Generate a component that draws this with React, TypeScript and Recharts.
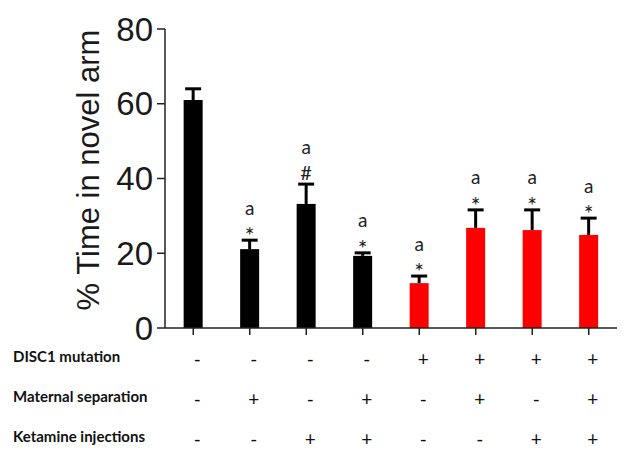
import { BarChart, Bar, XAxis, YAxis } from "recharts";

const GROUPS = ["G1", "G2", "G3", "G4", "G5", "G6", "G7", "G8"];
const MEANS = [61, 21.1, 33.2, 19.3, 12.0, 26.8, 26.2, 24.9];
const SEMS = [3, 2.4, 5.3, 0.8, 1.9, 4.8, 5.4, 4.5];
const FILLS = ["#000000", "#000000", "#000000", "#000000", "#ff0000", "#ff0000", "#ff0000", "#ff0000"];
const SIG_TOP = ["", "a", "a", "a", "a", "a", "a", "a"];
const SIG_MARK = ["", "*", "#", "*", "*", "*", "*", "*"];

const ROW_LABELS = ["DISC1 mutation", "Maternal separation", "Ketamine injections"];
const DISC1 = ["-", "-", "-", "-", "+", "+", "+", "+"];
const MATERNAL = ["-", "+", "-", "+", "-", "+", "-", "+"];
const KETAMINE = ["-", "-", "+", "+", "-", "-", "+", "+"];
const ROWS = [DISC1, MATERNAL, KETAMINE];

const Y_TICKS = [0, 20, 40, 60, 80];

const data = GROUPS.map((g, i) => ({
  group: g,
  mean: MEANS[i],
  sem: SEMS[i],
  fill: FILLS[i],
  top: SIG_TOP[i],
  mark: SIG_MARK[i],
}));

const SMALL_FONT = "Lato, 'Open Sans', sans-serif";

function BarWithError(props: any) {
  const { x, y, width, height, payload } = props;
  const k = height / payload.mean;
  const cx = x + width / 2;
  const errTop = y - payload.sem * k;
  const isHash = payload.mark === "#";
  return (
    <g>
      <rect x={x} y={y} width={width} height={height} fill={payload.fill} />
      <line x1={cx} x2={cx} y1={y} y2={errTop} stroke="#000" strokeWidth={3} />
      <line x1={cx - 8} x2={cx + 8} y1={errTop} y2={errTop} stroke="#000" strokeWidth={3} />
      {payload.mark && (
        <text
          x={cx}
          y={errTop - (isHash ? 12 : 5)}
          textAnchor="middle"
          dominantBaseline="central"
          fontSize={isHash ? 20 : 23}
          fontFamily={SMALL_FONT}
          fill="#222"
        >
          {payload.mark}
        </text>
      )}
      {payload.top && (
        <text
          x={cx}
          y={errTop - (isHash ? 38 : 33)}
          textAnchor="middle"
          dominantBaseline="central"
          fontSize={19}
          fontFamily={SMALL_FONT}
          fill="#222"
        >
          {payload.top}
        </text>
      )}
    </g>
  );
}

function TableTick(props: any) {
  const { x, y, index } = props;
  return (
    <g>
      {index === 0 &&
        ROW_LABELS.map((label, r) => (
          <text
            key={"l" + r}
            x={13}
            y={y + 19 + 40 * r}
            dominantBaseline="central"
            fontSize={15}
            fontWeight={700}
            fontFamily={SMALL_FONT}
            fill="#111"
          >
            {label}
          </text>
        ))}
      {ROWS.map((row, r) => (
        <text
          key={r}
          x={x + 4}
          y={y + 21 + 40 * r}
          textAnchor="middle"
          dominantBaseline="central"
          fontSize={19}
          fontFamily={SMALL_FONT}
          fill="#111"
        >
          {row[index]}
        </text>
      ))}
    </g>
  );
}

function YLabel() {
  return (
    <text
      x={88}
      y={170}
      transform="rotate(-90 88 170)"
      textAnchor="middle"
      dominantBaseline="central"
      fontSize={31}
      fontFamily="'Liberation Sans', Arial, sans-serif"
      fill="#1a1a1a"
    >
      % Time in novel arm
    </text>
  );
}

export default function App() {
  return (
    <div style={{ position: "absolute", left: 0, top: 0, width: 638, height: 458, background: "#fff" }}>
      <BarChart
        width={638}
        height={458}
        data={data}
        margin={{ top: 29, right: 21, bottom: 0, left: 0 }}
        barCategoryGap="33%"
      >
        <XAxis
          dataKey="group"
          height={130}
          interval={0}
          tick={<TableTick />}
          tickSize={7}
          axisLine={{ stroke: "#222", strokeWidth: 1.5 }}
          tickLine={{ stroke: "#222", strokeWidth: 1.5 }}
        />
        <YAxis
          width={165}
          domain={[0, 80]}
          ticks={Y_TICKS}
          interval={0}
          tickSize={8}
          tickMargin={4}
          axisLine={{ stroke: "#222", strokeWidth: 1.5 }}
          tickLine={{ stroke: "#222", strokeWidth: 1.5 }}
          tick={{ fontSize: 33, fill: "#1a1a1a", fontFamily: "'Liberation Sans', Arial, sans-serif" }}
          label={<YLabel />}
        />
        <Bar dataKey="mean" shape={<BarWithError />} isAnimationActive={false} />
      </BarChart>
    </div>
  );
}
